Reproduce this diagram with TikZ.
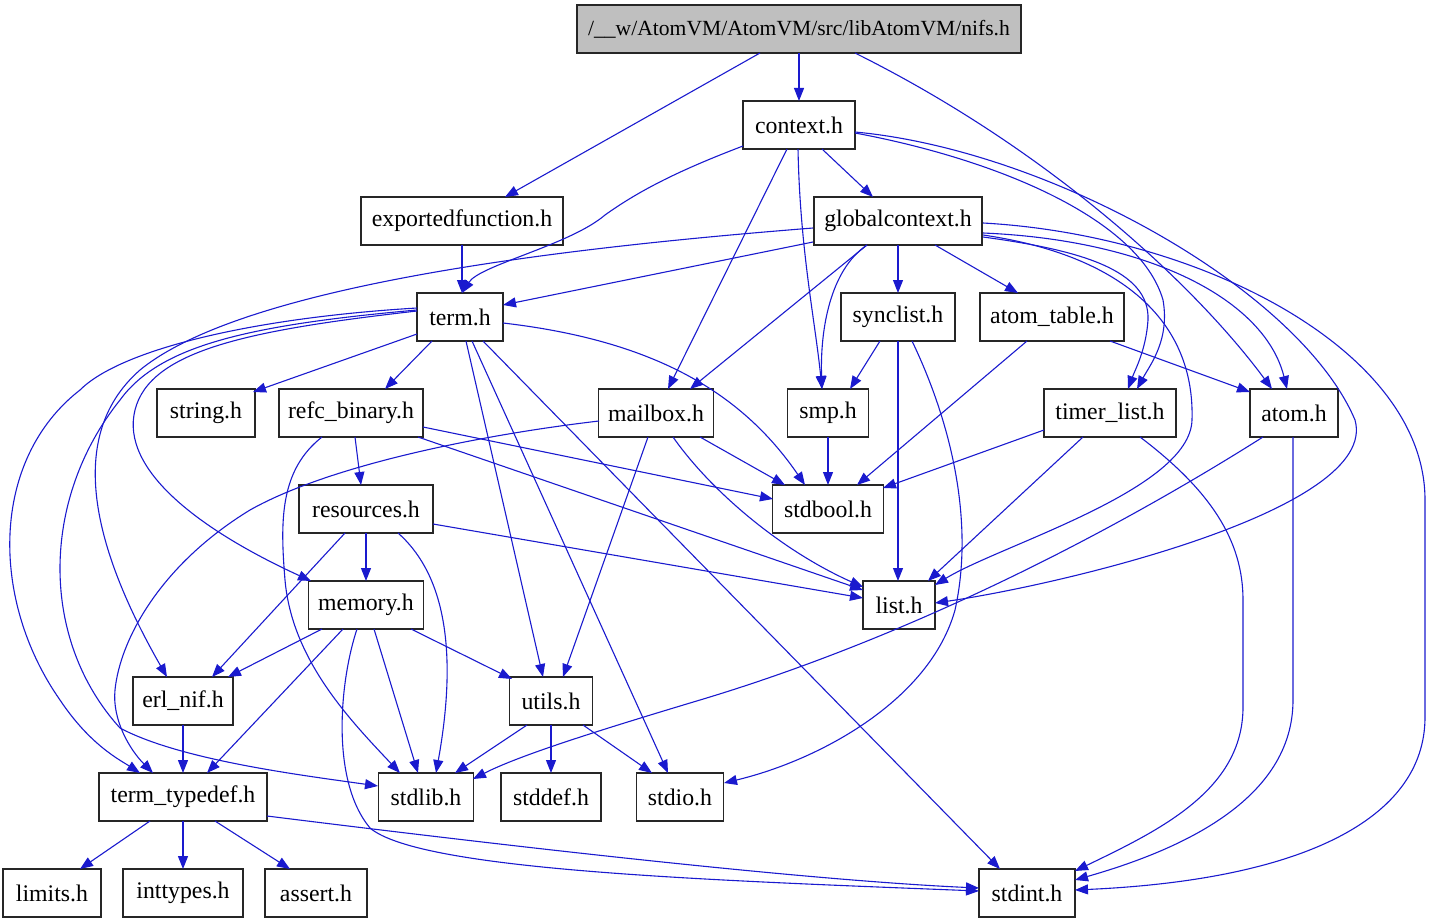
\documentclass[tikz,border=0pt]{standalone}
\usepackage{fontspec}
\setmainfont{Liberation Serif}
\usetikzlibrary{arrows.meta}
\definecolor{edgeblue}{RGB}{26,26,206}
\definecolor{boxgray}{RGB}{191,191,191}
\newcommand{\anc}[3]{([shift={(#2,#3)}]#1.center)}
\begin{document}
\begin{tikzpicture}[x=1pt,y=-1pt,
  box/.style={draw=black!85, line width=1.2pt, rectangle, minimum height=48pt, inner sep=0pt, font=\fontsize{23.8}{28}\selectfont, fill=white},
  dep/.style={draw=edgeblue, line width=1.1pt, -{Triangle[length=13pt,width=10pt]}},
]
\useasboundingbox (0,0) rectangle (1431,923);
\node[box, minimum width=444pt, fill=boxgray, font=\fontsize{21.6}{26}\selectfont] (nifs) at (799,29) {/\_\_w/AtomVM/AtomVM/src/libAtomVM/nifs.h};
\node[box, minimum width=112pt] (context) at (799,125) {context.h};
\node[box, minimum width=202pt] (expf) at (462,221) {exportedfunction.h};
\node[box, minimum width=168pt] (gc) at (898,221) {globalcontext.h};
\node[box, minimum width=86pt] (term) at (460,317) {term.h};
\node[box, minimum width=114pt] (synclist) at (898,317) {synclist.h};
\node[box, minimum width=144pt] (atomtable) at (1052,317) {atom\_table.h};
\node[box, minimum width=98pt] (string) at (206,413) {string.h};
\node[box, minimum width=144pt] (refc) at (351,413) {refc\_binary.h};
\node[box, minimum width=115pt] (mailbox) at (656,413) {mailbox.h};
\node[box, minimum width=81pt] (smp) at (828,413) {smp.h};
\node[box, minimum width=132pt] (timerlist) at (1110,413) {timer\_list.h};
\node[box, minimum width=88pt] (atom) at (1294,413) {atom.h};
\node[box, minimum width=134pt] (resources) at (366,509) {resources.h};
\node[box, minimum width=111pt] (stdbool) at (828,509) {stdbool.h};
\node[box, minimum width=115pt] (memory) at (366,605) {memory.h};
\node[box, minimum width=72pt] (list) at (899,605) {list.h};
\node[box, minimum width=100pt] (erlnif) at (183,701) {erl\_nif.h};
\node[box, minimum width=83pt] (utils) at (551,701) {utils.h};
\node[box, minimum width=168pt] (termtypedef) at (183,797) {term\_typedef.h};
\node[box, minimum width=95pt] (stdlib) at (426,797) {stdlib.h};
\node[box, minimum width=100pt] (stddef) at (551,797) {stddef.h};
\node[box, minimum width=87pt] (stdio) at (680,797) {stdio.h};
\node[box, minimum width=98pt] (limits) at (52,893) {limits.h};
\node[box, minimum width=120pt] (inttypes) at (183,893) {inttypes.h};
\node[box, minimum width=102pt] (assert) at (316,893) {assert.h};
\node[box, minimum width=96pt] (stdint) at (1027,893) {stdint.h};

% nifs.h
\draw[dep] \anc{nifs}{0}{24} -- \anc{context}{0}{-24};
\draw[dep] \anc{nifs}{-39}{24} -- \anc{expf}{43}{-24};
\draw[dep] \anc{nifs}{56}{24} .. controls (1050,150) and (1195,285) .. \anc{atom}{-22}{-24};
% context.h
\draw[dep] \anc{context}{23}{24} -- \anc{gc}{-25}{-24};
\draw[dep] \anc{context}{-56}{21} .. controls (680,170) and (640,190) .. (605,215) .. controls (570,245) and (480,265) .. \anc{term}{2}{-24};
\draw[dep] \anc{context}{-12}{24} -- \anc{mailbox}{12}{-24};
\draw[dep] \anc{context}{-1}{24} .. controls (800,250) and (815,320) .. \anc{smp}{-6}{-24};
\draw[dep] \anc{context}{56}{8} .. controls (1000,160) and (1140,220) .. (1163,300) .. controls (1170,340) and (1150,365) .. \anc{timerlist}{27}{-24};
\draw[dep] \anc{context}{56}{7} .. controls (1050,150) and (1300,290) .. (1355,420) .. controls (1380,510) and (1060,585) .. \anc{list}{36}{-2};
% exportedfunction.h
\draw[dep] \anc{expf}{0}{24} -- \anc{term}{2}{-24};
% globalcontext.h
\draw[dep] \anc{gc}{-85}{21} -- \anc{term}{43}{-12};
\draw[dep] \anc{gc}{-85}{7} .. controls (600,245) and (250,280) .. (140,370) .. controls (60,440) and (100,560) .. \anc{erlnif}{-16}{-24};
\draw[dep] \anc{gc}{-31}{24} -- \anc{mailbox}{34}{-24};
\draw[dep] \anc{gc}{-31}{24} .. controls (830,270) and (820,330) .. \anc{smp}{-6}{-24};
\draw[dep] \anc{gc}{0}{24} -- \anc{synclist}{0}{-24};
\draw[dep] \anc{gc}{37}{24} -- \anc{atomtable}{-34}{-24};
\draw[dep] \anc{gc}{85}{16} .. controls (1080,250) and (1150,270) .. (1148,320) .. controls (1146,350) and (1135,370) .. \anc{timerlist}{18}{-24};
\draw[dep] \anc{gc}{85}{12} .. controls (1150,240) and (1265,300) .. \anc{atom}{-7}{-24};
\draw[dep] \anc{gc}{85}{14} .. controls (1120,255) and (1195,320) .. (1192,420) .. controls (1190,490) and (1000,545) .. \anc{list}{36}{-20};
\draw[dep] \anc{gc}{85}{2} .. controls (1200,235) and (1425,350) .. (1425,500) -- (1425,717) .. controls (1425,820) and (1300,880) .. \anc{stdint}{48}{-3};
% term.h
\draw[dep] \anc{term}{-43}{17} -- \anc{string}{47}{-21};
\draw[dep] \anc{term}{-28}{24} -- \anc{refc}{34}{-24};
\draw[dep] \anc{term}{-43}{-6} .. controls (250,330) and (150,350) .. (135,410) .. controls (120,470) and (200,530) .. \anc{memory}{-55}{-24};
\draw[dep] \anc{term}{-43}{-9} .. controls (250,318) and (120,350) .. (80,390) .. controls (-10,460) and (-10,600) .. (60,700) .. controls (90,745) and (120,760) .. \anc{termtypedef}{-43}{-24};
\draw[dep] \anc{term}{-43}{-7} .. controls (250,325) and (160,345) .. (120,400) .. controls (40,500) and (40,640) .. (120,728) .. controls (180,760) and (300,775) .. \anc{stdlib}{-48}{-11};
\draw[dep] \anc{term}{6}{24} -- \anc{utils}{-8}{-24};
\draw[dep] \anc{term}{12}{24} -- \anc{stdio}{-12}{-24};
\draw[dep] \anc{term}{23}{24} -- \anc{stdint}{-27}{-24};
\draw[dep] \anc{term}{43}{6} .. controls (650,340) and (740,390) .. \anc{stdbool}{-23}{-24};
% synclist.h
\draw[dep] \anc{synclist}{-18}{24} -- \anc{smp}{22}{-24};
\draw[dep] \anc{synclist}{0}{24} -- \anc{list}{-1}{-24};
\draw[dep] \anc{synclist}{14}{24} .. controls (950,420) and (975,520) .. (955,610) .. controls (930,700) and (820,760) .. \anc{stdio}{44}{-14};
% atom_table.h
\draw[dep] \anc{atomtable}{-25}{24} -- \anc{stdbool}{29}{-24};
\draw[dep] \anc{atomtable}{58}{24} -- \anc{atom}{-44}{-21};
% refc_binary.h
\draw[dep] \anc{refc}{4}{24} -- \anc{resources}{-5}{-24};
\draw[dep] \anc{refc}{-29}{24} .. controls (280,470) and (280,520) .. (285,580) .. controls (292,660) and (350,720) .. \anc{stdlib}{-26}{-24};
\draw[dep] \anc{refc}{72}{14} -- \anc{stdbool}{-55}{-10};
\draw[dep] \anc{refc}{67}{24} -- \anc{list}{-36}{-15};
% mailbox.h
\draw[dep] \anc{mailbox}{-57}{8} .. controls (480,435) and (330,465) .. (250,510) .. controls (160,565) and (120,640) .. (115,690) .. controls (112,720) and (130,750) .. \anc{termtypedef}{-30}{-24};
\draw[dep] \anc{mailbox}{44}{24} -- \anc{stdbool}{-43}{-24};
\draw[dep] \anc{mailbox}{17}{24} .. controls (710,490) and (780,550) .. \anc{list}{-36}{-18};
\draw[dep] \anc{mailbox}{-8}{24} -- \anc{utils}{12}{-24};
% smp.h
\draw[dep] \anc{smp}{0}{24} -- \anc{stdbool}{0}{-24};
% timer_list.h
\draw[dep] \anc{timerlist}{-66}{17} -- \anc{stdbool}{55}{-21};
\draw[dep] \anc{timerlist}{-27}{24} -- \anc{list}{29}{-24};
\draw[dep] \anc{timerlist}{30}{24} .. controls (1210,490) and (1243,540) .. (1243,600) -- (1243,707) .. controls (1243,790) and (1160,830) .. \anc{stdint}{48}{-22};
% atom.h
\draw[dep] \anc{atom}{-31}{24} .. controls (1100,540) and (900,640) .. (700,700) .. controls (600,730) and (520,755) .. \anc{stdlib}{47}{-18};
\draw[dep] \anc{atom}{-1}{24} -- (1293,700) .. controls (1293,800) and (1180,850) .. \anc{stdint}{48}{-13};
% resources.h
\draw[dep] \anc{resources}{0}{24} -- \anc{memory}{0}{-24};
\draw[dep] \anc{resources}{-21}{24} -- \anc{erlnif}{29}{-24};
\draw[dep] \anc{resources}{32}{24} .. controls (440,570) and (460,640) .. \anc{stdlib}{10}{-24};
\draw[dep] \anc{resources}{67}{15} -- \anc{list}{-36}{-7};
% memory.h
\draw[dep] \anc{memory}{-44}{24} -- \anc{erlnif}{45}{-24};
\draw[dep] \anc{memory}{-23}{24} -- \anc{termtypedef}{24}{-24};
\draw[dep] \anc{memory}{8}{24} -- \anc{stdlib}{-8}{-24};
\draw[dep] \anc{memory}{45}{24} -- \anc{utils}{-39}{-22};
\draw[dep] \anc{memory}{-9}{24} .. controls (340,680) and (330,780) .. (370,828) .. controls (420,870) and (700,880) .. \anc{stdint}{-48}{-2};
% erl_nif.h
\draw[dep] \anc{erlnif}{0}{24} -- \anc{termtypedef}{0}{-24};
% utils.h
\draw[dep] \anc{utils}{-24}{24} -- \anc{stdlib}{29}{-24};
\draw[dep] \anc{utils}{0}{24} -- \anc{stddef}{0}{-24};
\draw[dep] \anc{utils}{32}{24} -- \anc{stdio}{-28}{-24};
% term_typedef.h
\draw[dep] \anc{termtypedef}{-33}{24} -- \anc{limits}{28}{-24};
\draw[dep] \anc{termtypedef}{0}{24} -- \anc{inttypes}{0}{-24};
\draw[dep] \anc{termtypedef}{32}{24} -- \anc{assert}{-26}{-24};
\draw[dep] \anc{termtypedef}{84}{19} .. controls (500,845) and (800,880) .. \anc{stdint}{-48}{-5};
\end{tikzpicture}
\end{document}
